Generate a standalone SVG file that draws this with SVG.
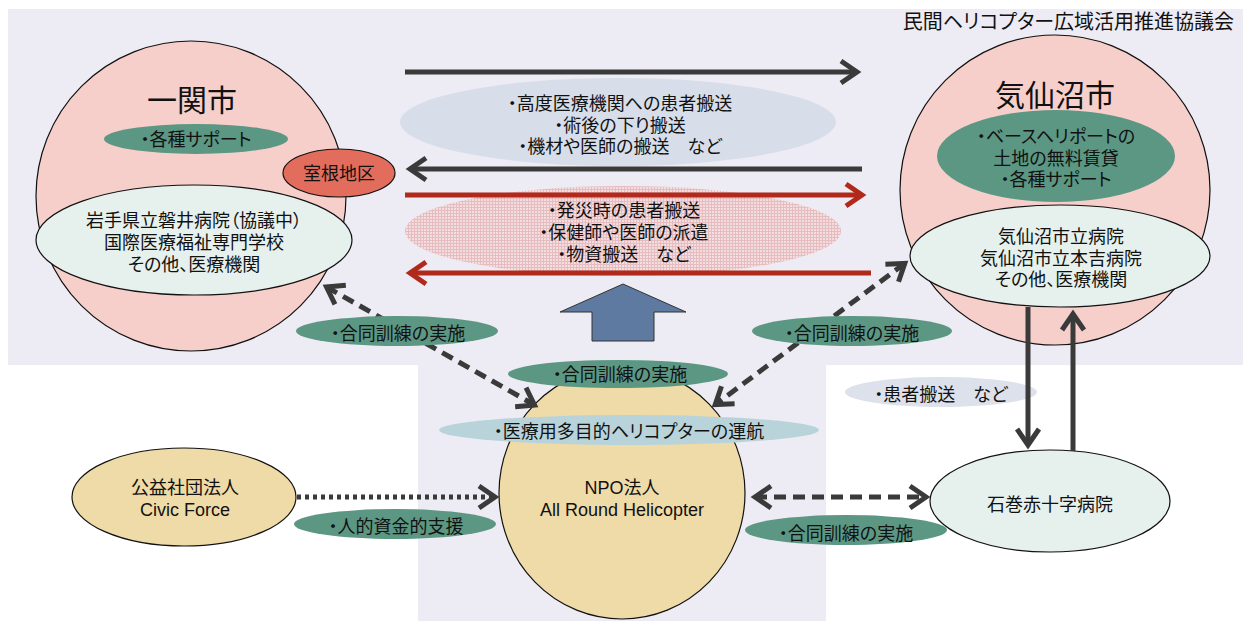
<svg xmlns="http://www.w3.org/2000/svg" width="1243" height="621" viewBox="0 0 1243 621">
<style>
text{font-family:"Liberation Sans","Noto Sans CJK JP",sans-serif;font-size:18px;fill:#111;text-anchor:middle;font-feature-settings:"palt"}
.title{font-size:30px}
.bg{fill:#EDEBF3}
.city{fill:#F6CFCB;stroke:#111;stroke-width:1.2}
.mint{fill:#E6F0EC;stroke:#111;stroke-width:1.2}
.wheat{fill:#EFDBA7;stroke:#111;stroke-width:1.2}
.green{fill:#5B9783}
.dark{fill:none;stroke:#3A3A3A;stroke-width:5}
.red{fill:none;stroke:#B0291B;stroke-width:5}
.dash{fill:none;stroke:#3A3A3A;stroke-width:5;stroke-dasharray:12 7}
.dot{fill:none;stroke:#3A3A3A;stroke-width:5;stroke-dasharray:4 4}
</style>
<defs>
<pattern id="hatch" width="3" height="3" patternUnits="userSpaceOnUse">
<rect width="3" height="3" fill="#F3DEDF"/>
<path d="M0,0.5H3M0.5,0V3" stroke="#E6BCC0" stroke-width="1"/>
</pattern>
<marker id="ahd" viewBox="0 0 26 28" refX="18" refY="14" markerWidth="26" markerHeight="28" markerUnits="userSpaceOnUse" orient="auto-start-reverse" overflow="visible">
<path d="M2,3 L18,14 L2,25" fill="none" stroke="#3A3A3A" stroke-width="5"/>
</marker>
<marker id="ahr" viewBox="0 0 26 28" refX="18" refY="14" markerWidth="26" markerHeight="28" markerUnits="userSpaceOnUse" orient="auto-start-reverse" overflow="visible">
<path d="M2,3 L18,14 L2,25" fill="none" stroke="#B0291B" stroke-width="5"/>
</marker>
</defs>

<g id="background">
<rect class="bg" x="8" y="9" width="1235" height="356"/>
<rect class="bg" x="418" y="365" width="408" height="256"/>
<text x="1234" y="29" style="font-size:20px;text-anchor:end">民間ヘリコプター広域活用推進協議会</text>
</g>

<g id="ichinoseki">
<circle class="city" cx="191" cy="196" r="155"/>
<text class="title" x="192" y="111">一関市</text>
<ellipse class="green" cx="196" cy="139" rx="92" ry="15"/>
<text x="196" y="146">・各種サポート</text>
</g>

<g id="murone">
<ellipse cx="339" cy="173" rx="56" ry="24" fill="#E26D5C" stroke="#111" stroke-width="1.2"/>
<text x="339" y="180">室根地区</text>
</g>

<g id="ichinoseki-hospitals">
<ellipse class="mint" cx="194" cy="240" rx="158" ry="55"/>
<text x="194" y="227">岩手県立磐井病院（協議中）</text>
<text x="194" y="249">国際医療福祉専門学校</text>
<text x="194" y="271">その他、医療機関</text>
</g>

<g id="kesennuma">
<circle class="city" cx="1055" cy="190" r="155"/>
<text class="title" x="1055" y="106">気仙沼市</text>
<ellipse class="green" cx="1056" cy="156" rx="119" ry="46"/>
<text x="1056" y="143">・ベースヘリポートの</text>
<text x="1056" y="165">土地の無料賃貸</text>
<text x="1056" y="186">・各種サポート</text>
</g>

<g id="kesennuma-hospitals">
<ellipse class="mint" cx="1060" cy="256" rx="150" ry="51"/>
<text x="1061" y="243">気仙沼市立病院</text>
<text x="1061" y="265">気仙沼市立本吉病院</text>
<text x="1061" y="286">その他、医療機関</text>
</g>

<g id="normal-transport">
<ellipse cx="618" cy="122" rx="218" ry="44" fill="#D7DEE9"/>
<text x="620" y="110">・高度医療機関への患者搬送</text>
<text x="620" y="132">・術後の下り搬送</text>
<text x="620" y="153">・機材や医師の搬送　など</text>
</g>

<g id="disaster-transport">
<ellipse cx="623" cy="231" rx="218" ry="45" fill="url(#hatch)"/>
<text x="624" y="217">・発災時の患者搬送</text>
<text x="624" y="239">・保健師や医師の派遣</text>
<text x="624" y="261">・物資搬送　など</text>
</g>

<g id="patient-transport">
<ellipse cx="941" cy="392" rx="96" ry="15" fill="#DCE1EB"/>
<text x="941" y="401">・患者搬送　など</text>
</g>

<g id="npo">
<ellipse class="wheat" cx="622" cy="493" rx="123" ry="126"/>
<text x="622" y="494">NPO法人</text>
<text x="622" y="516">All Round Helicopter</text>
</g>

<g id="civic-force">
<ellipse class="wheat" cx="184" cy="497" rx="112" ry="49"/>
<text x="185" y="494">公益社団法人</text>
<text x="185" y="516">Civic Force</text>
</g>

<g id="ishinomaki">
<ellipse class="mint" cx="1050" cy="501" rx="120" ry="51"/>
<text x="1050" y="511">石巻赤十字病院</text>
</g>

<g id="connectors">
<line class="dark" x1="405" y1="72" x2="857" y2="72" marker-end="url(#ahd)"/>
<line class="dark" x1="862" y1="169" x2="410" y2="169" marker-end="url(#ahd)"/>
<line class="red" x1="405" y1="195" x2="862" y2="195" marker-end="url(#ahr)"/>
<line class="red" x1="871" y1="273" x2="410" y2="273" marker-end="url(#ahr)"/>
<polygon points="623,284 686,312 654,312 654,341 592,341 592,312 560,312" fill="#5F7AA1" stroke="#333" stroke-width="1"/>
<line class="dash" x1="326.5" y1="287" x2="534.5" y2="405" marker-start="url(#ahd)" marker-end="url(#ahd)"/>
<line class="dash" x1="904.8" y1="263.4" x2="715.2" y2="404.6" marker-start="url(#ahd)" marker-end="url(#ahd)"/>
<line class="dash" x1="755" y1="497" x2="926" y2="497" marker-start="url(#ahd)" marker-end="url(#ahd)"/>
<line class="dot" x1="297" y1="497" x2="495" y2="497" marker-end="url(#ahd)"/>
<line class="dark" x1="1028" y1="307" x2="1028" y2="445" marker-end="url(#ahd)"/>
<line class="dark" x1="1073" y1="451" x2="1073" y2="314" marker-end="url(#ahd)"/>
</g>

<g id="label-training-left">
<ellipse class="green" cx="397" cy="331" rx="101" ry="15"/>
<text x="398" y="340">・合同訓練の実施</text>
</g>
<g id="label-training-right">
<ellipse class="green" cx="852" cy="331" rx="100" ry="15"/>
<text x="852" y="340">・合同訓練の実施</text>
</g>
<g id="label-training-npo">
<ellipse class="green" cx="618" cy="374" rx="110" ry="14"/>
<text x="620" y="381">・合同訓練の実施</text>
</g>
<g id="label-operation">
<ellipse cx="629" cy="430" rx="190" ry="15" fill="#B8D3DA"/>
<text x="629" y="438">・医療用多目的ヘリコプターの運航</text>
</g>
<g id="label-support">
<ellipse class="green" cx="395" cy="524" rx="101" ry="15"/>
<text x="396" y="533">・人的資金的支援</text>
</g>
<g id="label-training-ishinomaki">
<ellipse class="green" cx="846" cy="530" rx="101" ry="15"/>
<text x="846" y="540">・合同訓練の実施</text>
</g>
</svg>
